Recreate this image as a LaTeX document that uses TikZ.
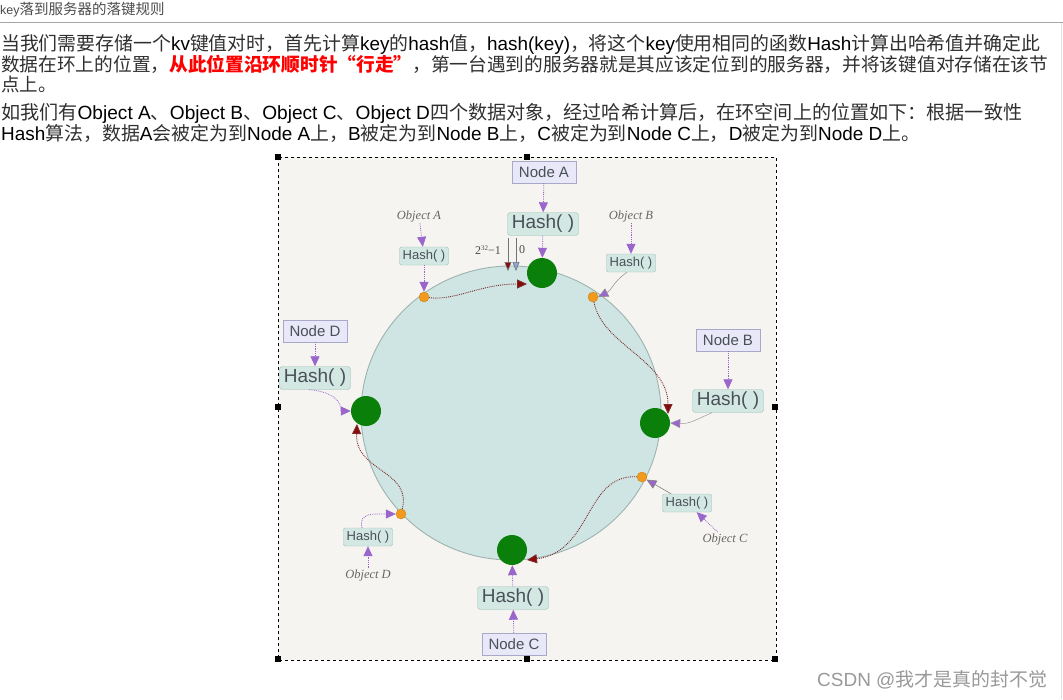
\documentclass[tikz,border=0pt]{standalone}
\usepackage{fontspec}
\usepackage{graphicx}
\setmainfont{Liberation Sans}
\newfontfamily\cjk{Noto Sans CJK SC}
\newfontfamily\latf{Liberation Sans}
\newfontfamily\serff{Liberation Serif}
\usetikzlibrary{arrows.meta}
\newcommand\La[1]{{\latf\color{black}#1}}
\newcommand\fitto[2]{\resizebox{#1pt}{!}{#2}}
\definecolor{txt}{HTML}{303030}
\definecolor{bgc}{HTML}{F6F4F1}
\definecolor{ringfill}{HTML}{CFE5E3}
\definecolor{ringline}{HTML}{9DB3AE}
\definecolor{gnodec}{HTML}{0A7F0A}
\definecolor{orangec}{HTML}{F29A1E}
\definecolor{nodefill}{HTML}{E8E8F8}
\definecolor{nodeline}{HTML}{A8A8C8}
\definecolor{hashfill}{HTML}{D4E8E3}
\definecolor{hashline}{HTML}{9CBDB6}
\definecolor{boxtext}{HTML}{4A5058}
\definecolor{purp}{HTML}{9A66CC}
\definecolor{walkc}{HTML}{7A2A2A}
\definecolor{walktip}{HTML}{8B0A0A}
\tikzset{
  nodebox/.style={draw=nodeline, fill=nodefill, text=boxtext, minimum width=64, minimum height=22, inner sep=2, font=\fontsize{15}{15}\selectfont},
  hashbig/.style={draw=hashline, fill=hashfill, rounded corners=3, text=boxtext, minimum width=71, minimum height=23, inner sep=2, font=\fontsize{19}{19}\selectfont},
  hashsmall/.style={draw=hashline, fill=hashfill, rounded corners=2, text=boxtext, minimum width=49, minimum height=18, inner sep=2, font=\fontsize{13}{13}\selectfont},
  objlabel/.style={text=black!60, inner sep=1, font=\serff\itshape\fontsize{12.5}{12.5}\selectfont},
  gnode/.style={circle, fill=gnodec, minimum size=30, inner sep=0},
  onode/.style={circle, fill=orangec, draw=orangec!85!black, minimum size=10, inner sep=0},
  parrow/.style={purp, densely dotted, line width=0.8, -{Triangle[width=9,length=10,fill=purp]}},
  walk/.style={walkc, densely dotted, line width=0.9, -{Triangle[width=9,length=10,fill=walktip]}},
  textline/.style={anchor=west, inner sep=0, text=txt},
  handle/.style={fill=black, minimum size=6, inner sep=0},
}
\begin{document}
\begin{tikzpicture}[x=1pt,y=-1pt]
\useasboundingbox (0,0) rectangle (1063,699);
\fill[white] (0,0) rectangle (1063,699);
% header
\node[anchor=west, inner sep=0, text=black!70, font=\fontsize{14}{14}\selectfont] (hdr) at (0,10) {\fontsize{12.5}{12.5}\selectfont{\latf key}\cjk\fontsize{14.5}{14.5}\selectfont 落到服务器的落键规则};
\draw[black!35, line width=1] (0,22.5) -- (1063,22.5);
\draw[black!12, line width=1] (1061,23) -- (1061,699);
% paragraph 1
\node[textline] (p1a) at (1,44) {\fitto{1039}{\cjk\fontsize{18}{18}\selectfont 当我们需要存储一个\La{kv}键值对时，首先计算\La{key}的\La{hash}值，\La{hash(key)}，将这个\La{key}使用相同的函数\La{Hash}计算出哈希值并确定此}};
\node[textline] (p1b) at (1,64) {\fitto{1047}{\cjk\fontsize{18}{18}\selectfont 数据在环上的位置，{\bfseries\color{red}从此位置沿环顺时针“行走”}，第一台遇到的服务器就是其应该定位到的服务器，并将该键值对存储在该节}};
\node[textline] (p1c) at (1,84) {\cjk\fontsize{18.5}{18.5}\selectfont 点上。};
% paragraph 2
\node[textline] (p2a) at (1,113) {\fitto{1021}{\cjk\fontsize{18}{18}\selectfont 如我们有\La{Object A}、\La{Object B}、\La{Object C}、\La{Object D}四个数据对象，经过哈希计算后，在环空间上的位置如下：根据一致性}};
\node[textline] (p2b) at (1,133) {\fitto{919}{\cjk\fontsize{18}{18}\selectfont \La{Hash}算法，数据\La{A}会被定为到\La{Node A}上，\La{B}被定为到\La{Node B}上，\La{C}被定为到\La{Node C}上，\La{D}被定为到\La{Node D}上。}};
% diagram frame
\fill[bgc] (278,157) rectangle (776,660);
\draw[black, dashed, line width=0.8] (278,157) rectangle (776,660);
\node[handle] (h1) at (278,157) {};
\node[handle] (h2) at (527,157) {};
\node[handle] (h3) at (278,407) {};
\node[handle] (h4) at (775,407) {};
\node[handle] (h5) at (278,659) {};
\node[handle] (h6) at (527,659) {};
\node[handle] (h7) at (775,659) {};
% ring
\draw[ringline, fill=ringfill, line width=0.9] (511,413) ellipse [x radius=150, y radius=147];
% server nodes
\node[gnode] (gA) at (542,273) {};
\node[gnode] (gB) at (655,423) {};
\node[gnode] (gC) at (512,550) {};
\node[gnode] (gD) at (366,411) {};
% object points
\node[onode] (orA) at (424,297) {};
\node[onode] (orB) at (593,297) {};
\node[onode] (orC) at (642,477) {};
\node[onode] (orD) at (401,514) {};
% Node A
\node[nodebox] (nA) at (544,172) {Node A};
\node[hashbig] (hA) at (543,224) {Hash( )};
\draw[parrow] (nA) -- (hA);
\draw[parrow] (hA) -- (gA);
% 2^32-1 / 0 marker
\node[inner sep=0, text=black!70, font=\serff\fontsize{12}{12}\selectfont] (tw) at (488,250) {2\raisebox{4pt}{\fontsize{7}{7}\selectfont 32}−1};
\node[inner sep=0, text=black!70, font=\serff\fontsize{12}{12}\selectfont] (zr) at (522,250) {0};
\coordinate (m1t) at (508,238);
\coordinate (m1b) at (508,271);
\coordinate (m2t) at (516,238);
\coordinate (m2b) at (516,271);
\draw[black!55, line width=0.6, -{Triangle[width=7,length=9,fill=walktip]}] (m1t) -- (m1b);
\draw[black!55, line width=0.6, -{Triangle[width=7,length=9,fill=cyan!40!blue!45]}] (m2t) -- (m2b);
% Object A
\node[objlabel] (oA) at (419,216) {Object A};
\node[hashsmall] (hsA) at (424,256) {Hash( )};
\draw[parrow] (oA) -- (hsA);
\draw[parrow] (hsA) -- (orA);
% Object B
\node[objlabel] (oB) at (631,216) {Object B};
\node[hashsmall] (hsB) at (631,263) {Hash( )};
\draw[parrow] (oB) -- (hsB);
\draw[parrow, black!45, solid, line width=0.5] ([xshift=-4]hsB.south) .. controls (612,283) and (612,290) .. (orB.east);
% Node B
\node[nodebox] (nB) at (728,340) {Node B};
\node[hashbig] (hB) at (728,401) {Hash( )};
\draw[parrow] (nB) -- (hB);
\draw[parrow, black!40, solid, line width=0.5] ([xshift=-16]hB.south) .. controls (695,420) and (690,424) .. (gB.east);
% Node D
\node[nodebox] (nD) at (315,331) {Node D};
\node[hashbig] (hD) at (315,378) {Hash( )};
\draw[parrow] (nD) -- (hD);
\draw[parrow] ([xshift=-6]hD.south) .. controls (345,393) and (340,411) .. (gD.west);
% Object C
\node[hashsmall] (hsC) at (687,503) {Hash( )};
\node[objlabel] (oC) at (725,539) {Object C};
\draw[parrow] (oC) -- (hsC);
\draw[parrow, black!50, solid, line width=0.6] (hsC) -- (orC);
% Object D
\node[hashsmall] (hsD) at (368,537) {Hash( )};
\node[objlabel] (oD) at (368,575) {Object D};
\draw[parrow] (oD) -- (hsD);
\draw[parrow] ([xshift=-6]hsD.north) .. controls (358,512) and (375,514) .. (orD.west);
% Node C
\node[hashbig] (hC) at (513,598) {Hash( )};
\node[nodebox] (nC) at (514,644) {Node C};
\draw[parrow] (nC) -- (hC);
\draw[parrow] (hC) -- (gC);
% clockwise walks
\coordinate (wA) at (527,284);
\coordinate (wB) at (668,414);
\coordinate (wC) at (527,560);
\coordinate (wD) at (357,424);
\draw[walk] (orA) .. controls (455,301) and (480,284) .. (wA);
\draw[walk] (orB) .. controls (602,345) and (668,360) .. (wB);
\draw[walk] (orC) .. controls (585,474) and (592,552) .. (wC);
\draw[walk] (orD) .. controls (412,470) and (355,472) .. (wD);
% watermark
\node[anchor=west, inner sep=0, text=black!40] (wm) at (817,680) {\fitto{230}{\fontsize{18}{18}\selectfont CSDN @{\cjk 我才是真的封不觉}}};
\end{tikzpicture}
\end{document}
